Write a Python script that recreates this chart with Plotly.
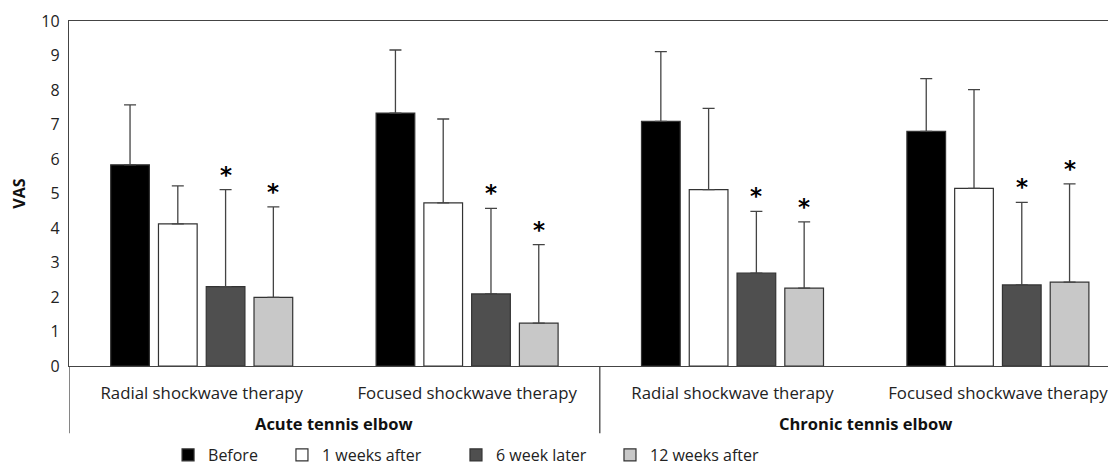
import plotly.graph_objects as go

groups = ["Acute tennis elbow", "Chronic tennis elbow"]
therapies = ["Radial shockwave therapy", "Focused shockwave therapy",
             "Radial shockwave therapy", "Focused shockwave therapy"]
series_names = ["Before", "1 weeks after", "6 week later", "12 weeks after"]
series_colors = ["#000000", "#ffffff", "#4f4f4f", "#c8c8c8"]

means = {
    "Before":         [5.83, 7.33, 7.09, 6.80],
    "1 weeks after":  [4.12, 4.73, 5.11, 5.15],
    "6 week later":   [2.30, 2.09, 2.69, 2.35],
    "12 weeks after": [1.99, 1.24, 2.26, 2.43],
}
upper = {
    "Before":         [7.57, 9.16, 9.11, 8.33],
    "1 weeks after":  [5.22, 7.16, 7.47, 8.01],
    "6 week later":   [5.11, 4.57, 4.48, 4.74],
    "12 weeks after": [4.61, 3.52, 4.18, 5.28],
}
significant = {
    "Before":         [False, False, False, False],
    "1 weeks after":  [False, False, False, False],
    "6 week later":   [True, True, True, True],
    "12 weeks after": [True, True, True, True],
}

xpos = list(range(len(therapies)))
BARGAP = 0.28
FONT = "Open Sans"

fig = go.Figure()
legend_ids = ["legend", "legend2", "legend3", "legend4"]
for i, name in enumerate(series_names):
    sd = [u - m for u, m in zip(upper[name], means[name])]
    fig.add_trace(go.Bar(
        x=xpos, y=means[name], name=name,
        marker=dict(color=series_colors[i], line=dict(color="#333333", width=1.2)),
        error_y=dict(type="data", array=sd, arrayminus=[0] * len(sd), symmetric=False,
                     color="#444444", thickness=1.3, width=6),
        legend=legend_ids[i],
    ))

slot = (1 - BARGAP) / len(series_names)
for i, name in enumerate(series_names):
    for g in xpos:
        if significant[name][g]:
            fig.add_annotation(x=g + (i - 1.5) * slot, y=upper[name][g], text="<b>*</b>",
                               showarrow=False, yanchor="middle", yshift=15,
                               font=dict(size=23, color="#000000", family="DejaVu Sans"))

# group labels and dividers
for gi, gname in enumerate(groups):
    fig.add_annotation(x=gi * 2 + 0.5, y=0, xref="x", yref="y", yanchor="middle",
                       yshift=-57, text="<b>" + gname + "</b>", showarrow=False,
                       font=dict(size=16.5, color="#111111", family=FONT))
for xv in [-0.5, 1.5]:
    fig.add_shape(type="line", xref="x", yref="paper", x0=xv, x1=xv, y0=0, y1=-0.195,
                  line=dict(color="#444444", width=1.3))

# page body adds an 8px offset, so the canvas is 8px smaller than the window
fig.update_layout(
    width=1108, height=459,
    margin=dict(l=61, r=0, t=13, b=101, autoexpand=False),
    paper_bgcolor="white", plot_bgcolor="white",
    barmode="group", bargap=BARGAP, bargroupgap=0.19,
    font=dict(family=FONT, size=16, color="#222222"),
    showlegend=True,
    xaxis=dict(range=[-0.5, 3.445], tickvals=xpos, ticktext=therapies, automargin=False,
               showline=True, linecolor="#444444", linewidth=1.3, mirror=True,
               ticks="", showgrid=False, zeroline=False, ticklabelstandoff=12,
               tickfont=dict(size=16.8, color="#222222")),
    yaxis=dict(range=[0, 10], dtick=1, showline=True, linecolor="#444444", linewidth=1.3,
               ticks="", showgrid=False, zeroline=False, automargin=False,
               ticklabelstandoff=5,
               title=dict(text="<b>VAS</b>", standoff=13, font=dict(size=16, color="#111111")),
               tickfont=dict(size=16, color="#222222")),
)
legend_x = [0.0946, 0.2034, 0.3696, 0.5167]
for lid, lx in zip(legend_ids, legend_x):
    fig.update_layout({lid: dict(x=lx, y=-0.258, xanchor="left", yanchor="middle",
                                 orientation="h", bgcolor="rgba(0,0,0,0)",
                                 font=dict(size=16, color="#222222"),
                                 itemwidth=30)})

fig.write_html("out.html")
